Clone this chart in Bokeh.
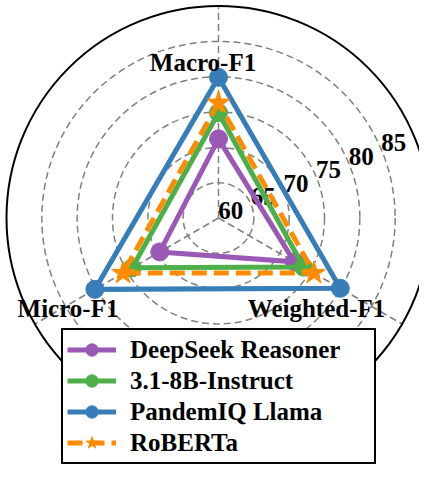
import numpy as np
from bokeh.plotting import figure
from bokeh.models import Range1d, Legend, LegendItem
from bokeh.core.properties import value
from bokeh.embed import file_html
from bokeh.resources import INLINE

# ---------------- data ----------------
categories = ["Macro-F1", "Micro-F1", "Weighted-F1"]
series_names = ["DeepSeek Reasoner", "3.1-8B-Instruct", "PandemIQ Llama", "RoBERTa"]
deepseek = [66.2, 64.6, 67.4]
instruct = [69.9, 69.1, 68.9]
pandemiq = [74.9, 75.2, 74.9]
roberta = [71.3, 70.6, 70.6]
r_ticks = [60, 65, 70, 75, 80, 85]
r_min, r_max = 55, 85

# ---------------- style / layout ----------------
angles_deg = [90, 210, 330]
R_PX = 212.0                      # outer circle radius (px)
K = R_PX / (r_max - r_min)        # px per unit
colors = ["#9b59b6", "#4daf4a", "#377eb8", "#ff8c00"]
markers = ["circle", "circle", "circle", "star"]
marker_sizes = [18, 18, 18, 24]
dashes = ["solid", "solid", "solid", "15 7"]
FONT = value("Liberation Serif")

W, H = 419, 465
cx, cy = 218.0, 217.5  # chart center in picture pixels
p = figure(width=W, height=H, output_backend="svg", toolbar_location=None,
           x_range=Range1d(-cx, W - cx), y_range=Range1d(cy - H, cy),
           x_axis_type=None, y_axis_type=None, min_border=0)
p.outline_line_color = None
p.grid.visible = False
p.background_fill_color = "white"


def rad(v):
    return (np.asarray(v, dtype=float) - r_min) * K


th = np.deg2rad(angles_deg)

# grid circles (dashed), spokes and outer spine
grid_vals = [v for v in r_ticks if v < r_max]
p.circle(x=[0] * len(grid_vals), y=[0] * len(grid_vals), radius=list(rad(grid_vals)),
         fill_color=None, line_color="#808080", line_width=1.5, line_dash="7 4")
p.segment(x0=[0] * 3, y0=[0] * 3, x1=list(R_PX * np.cos(th)), y1=list(R_PX * np.sin(th)),
          line_color="#808080", line_width=1.5, line_dash="7 4")
p.circle(x=[0], y=[0], radius=[R_PX], fill_color=None, line_color="black", line_width=2)

# radial tick labels
a_lab = np.deg2rad(22.5)
tr = rad(r_ticks)
p.text(x=list(tr * np.cos(a_lab) - 8), y=list(tr * np.sin(a_lab) - 6),
       text=[str(v) for v in r_ticks], text_font=FONT, text_font_style="bold",
       text_font_size="25px", text_align="right", text_baseline="alphabetic", text_color="black")

# data series
items = []
for name, vals, col, mk, ms, ds in zip(series_names, [deepseek, instruct, pandemiq, roberta],
                                       colors, markers, marker_sizes, dashes):
    r = rad(vals)
    xs = list(r * np.cos(th)) + [r[0] * np.cos(th[0])]
    ys = list(r * np.sin(th)) + [r[0] * np.sin(th[0])]
    ln = p.line(xs, ys, line_color=col, line_width=5, line_dash=ds, line_join="miter")
    sc = p.scatter(list(r * np.cos(th)), list(r * np.sin(th)), marker=mk, size=ms,
                   fill_color=col, line_color=col)
    items.append(LegendItem(label=name, renderers=[ln, sc]))

# category labels
cat_x = [-15.5, -150.5, 98.0]
cat_y = [155.8, -90.8, -90.8]
p.text(x=cat_x, y=cat_y, text=categories, text_font=FONT, text_font_style="bold",
       text_font_size="25px", text_align="center", text_baseline="alphabetic", text_color="black")

legend = Legend(items=items, location=(61, 1), orientation="vertical",
                label_text_font="Liberation Serif", label_text_font_style="bold",
                label_text_font_size="25px", label_text_color="black",
                glyph_width=49, glyph_height=31,
                label_height=31, label_standoff=14, spacing=0, padding=4, margin=0,
                label_width=240, border_line_color="black", border_line_width=2,
                border_line_alpha=1.0,
                background_fill_color="white", background_fill_alpha=1.0)
p.add_layout(legend, "center")

open("out.html", "w").write(file_html(p, INLINE))
